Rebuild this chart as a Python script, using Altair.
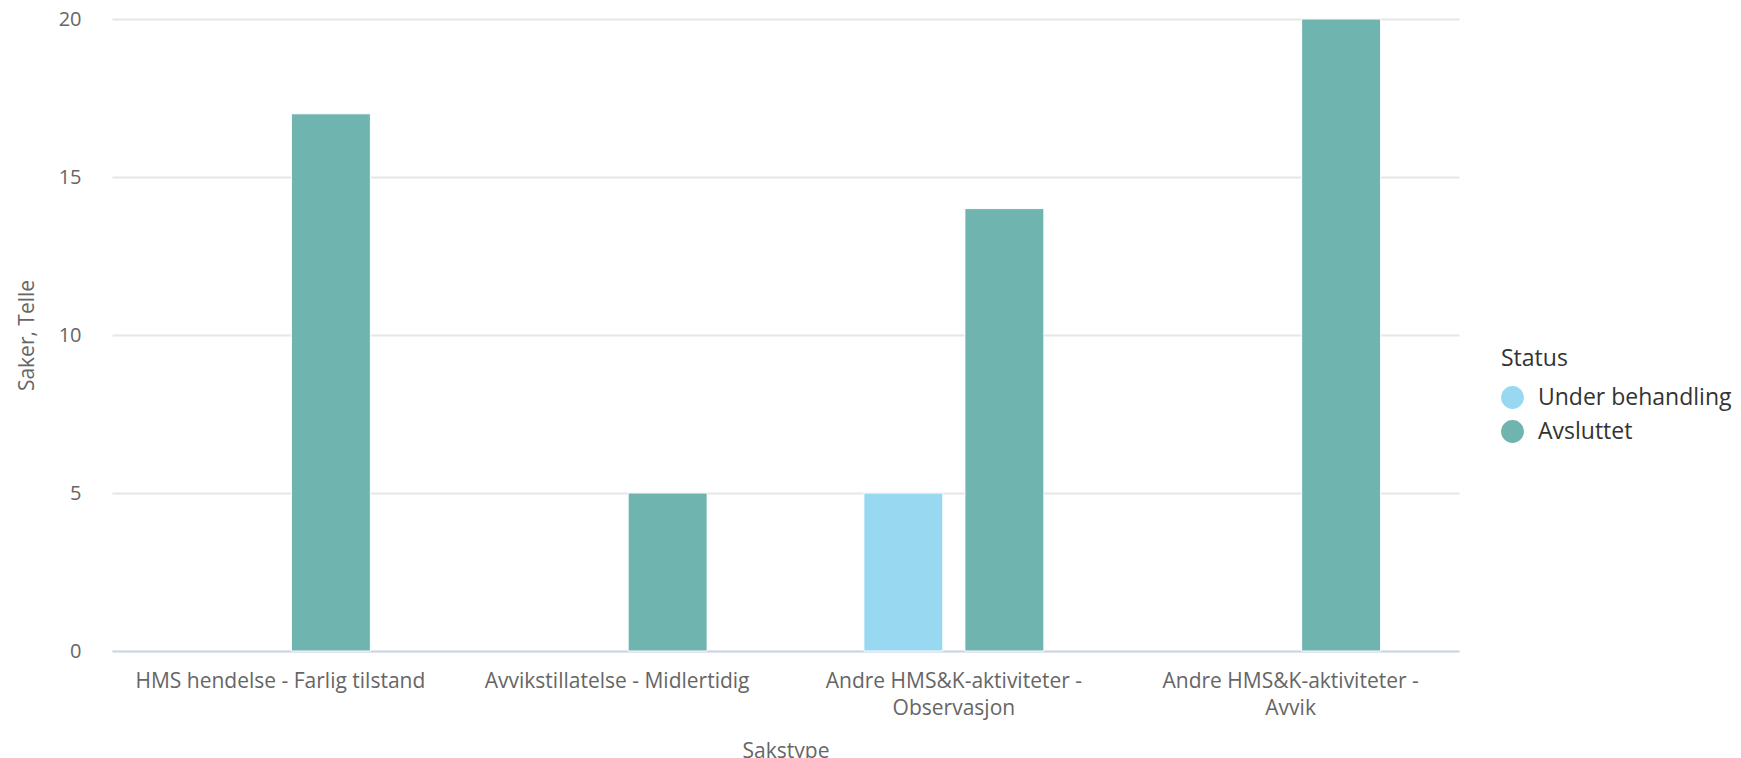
import altair as alt
import pandas as pd

categories = [
    "HMS hendelse - Farlig tilstand",
    "Avvikstillatelse - Midlertidig",
    "Andre HMS&K-aktiviteter - Observasjon",
    "Andre HMS&K-aktiviteter - Avvik",
]
statuses = ["Under behandling", "Avsluttet"]
colors = ["#98D8F0", "#6FB4AE"]

row_category = [categories[0], categories[1], categories[2], categories[2], categories[3]]
row_status = ["Avsluttet", "Avsluttet", "Under behandling", "Avsluttet", "Avsluttet"]
row_count = [17, 5, 5, 14, 20]

df = pd.DataFrame({"Sakstype": row_category, "Status": row_status, "Saker": row_count})

FONT = "Open Sans"

label_expr = ("indexof(datum.label, 'Andre') == 0 ? "
              "[slice(datum.label, 0, 25), slice(datum.label, 26)] : datum.label")

chart = alt.Chart(df).mark_bar(stroke="#ffffff", strokeWidth=1).encode(
    x=alt.X(
        "Sakstype:N",
        sort=categories,
        scale=alt.Scale(domain=categories, paddingInner=0.4, paddingOuter=0.2),
        axis=alt.Axis(
            title="Sakstype",
            labelAngle=0,
            labelExpr=label_expr,
            labelFont=FONT,
            labelFontSize=21,
            labelColor="#666666",
            labelPadding=19,
            labelLineHeight=27,
            labelLimit=0,
            ticks=False,
            domainColor="#ccd6eb",
            domainWidth=2,
            titleFont=FONT,
            titleFontSize=21,
            titleFontWeight="normal",
            titleColor="#666666",
            titlePadding=22,
            grid=False,
        ),
    ),
    xOffset=alt.XOffset(
        "Status:N",
        sort=statuses,
        scale=alt.Scale(domain=statuses, paddingInner=0.218, paddingOuter=0.109),
    ),
    y=alt.Y(
        "Saker:Q",
        scale=alt.Scale(domain=[0, 20], nice=False),
        axis=alt.Axis(
            title="Saker, Telle",
            values=[0, 5, 10, 15, 20],
            labelFont=FONT,
            labelFontSize=20,
            labelColor="#666666",
            labelPadding=31,
            ticks=False,
            domain=False,
            gridColor="#e6e6e6",
            gridWidth=2,
            titleFont=FONT,
            titleFontSize=21,
            titleFontWeight="normal",
            titleColor="#666666",
            titlePadding=21,
        ),
    ),
    color=alt.Color(
        "Status:N",
        sort=statuses,
        scale=alt.Scale(domain=statuses, range=colors),
        legend=alt.Legend(
            title="Status",
            orient="none",
            legendX=1389,
            legendY=329,
            symbolType="circle",
            symbolSize=520,
            symbolStrokeWidth=0,
            labelFont=FONT,
            labelFontSize=23,
            labelColor="#333333",
            labelLimit=0,
            titleFont=FONT,
            titleFontSize=23,
            titleFontWeight="normal",
            titleColor="#333333",
            titlePadding=15,
            rowPadding=10,
            labelOffset=14,
        ),
    ),
).properties(
    width=1347,
    height=632,
    padding={"left": 16, "top": 9, "right": 0, "bottom": 0},
).configure_view(stroke=None)

chart.save("out.html", embed_options={"renderer": "svg", "actions": False})
